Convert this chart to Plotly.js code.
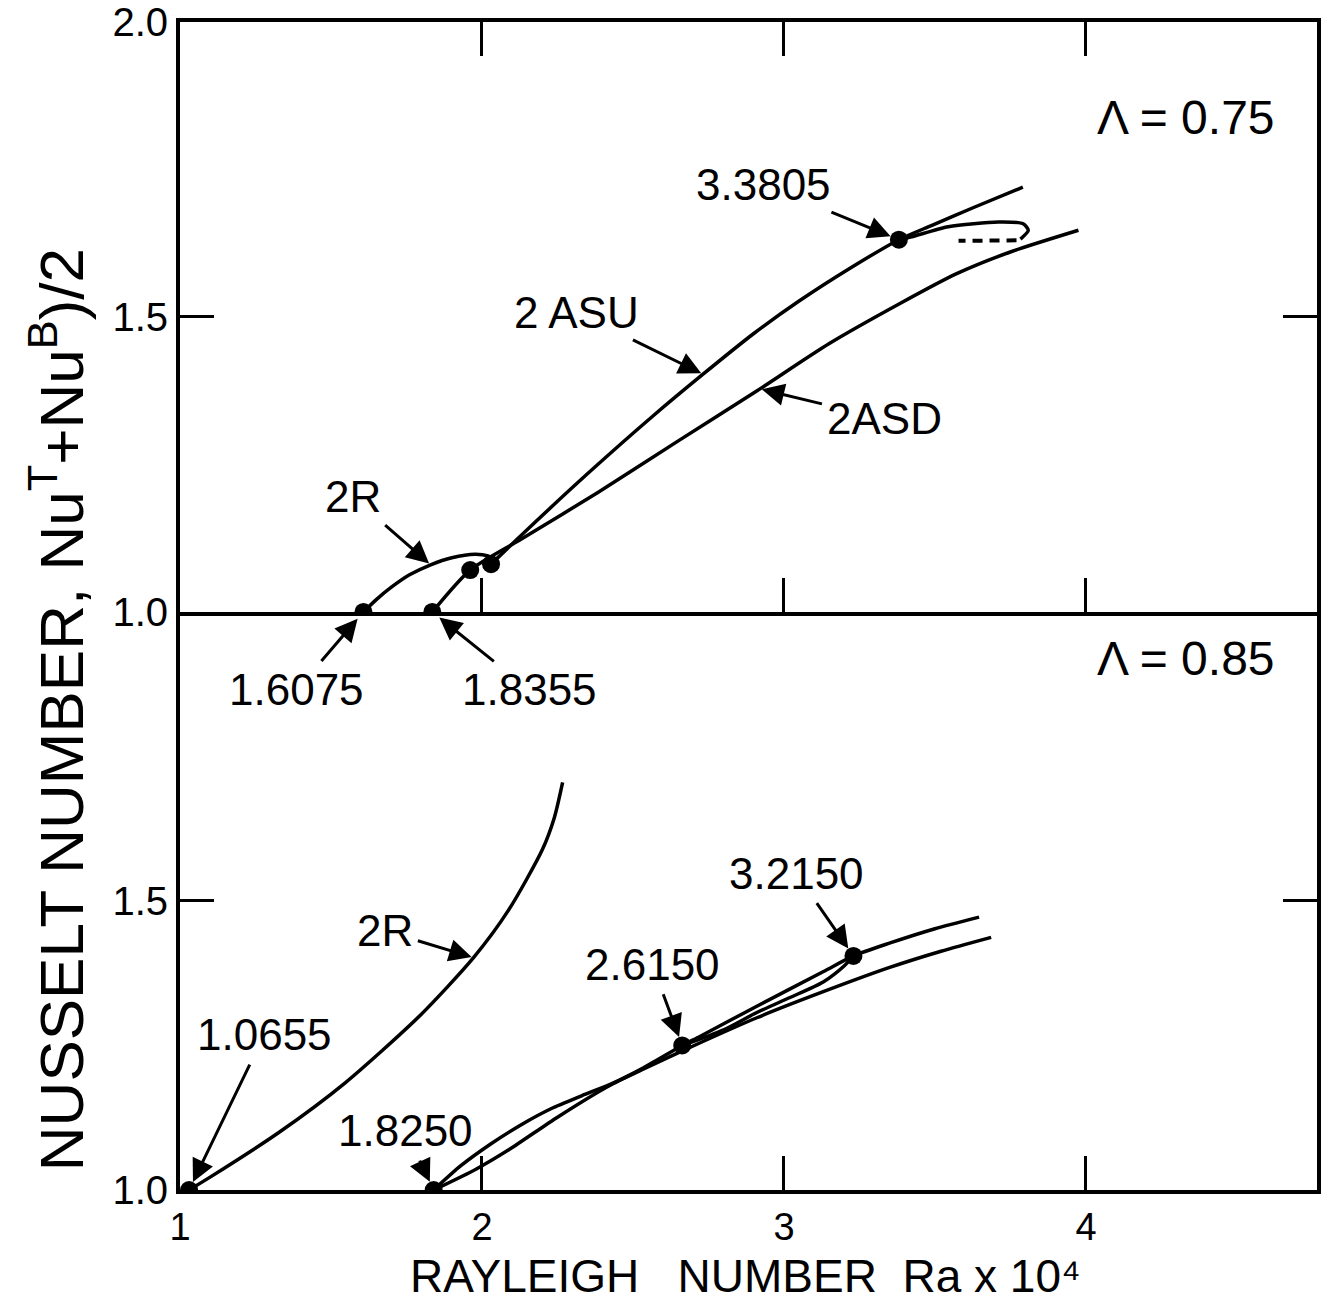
<!DOCTYPE html>
<html>
<head>
<meta charset="utf-8">
<script src="https://cdn.plot.ly/plotly-3.0.1.min.js"></script>
<style>html,body{margin:0;padding:0;background:#fff;}</style>
</head>
<body>
<div id="chart" style="width:1329px;height:1306px;"></div>
<script>
// ---------- DATA (Ra x 10^-4, Nusselt number) ----------
// Upper panel, Lambda = 0.75
const up2R_x   = [1.6075, 1.650, 1.700, 1.760, 1.830, 1.900, 1.977, 2.020, 2.045];
const up2R_y   = [1.000, 1.021, 1.042, 1.063, 1.080, 1.092, 1.098, 1.095, 1.087];
const upASU_x  = [2.030, 2.132, 2.351, 2.568, 2.732, 2.900, 3.050, 3.220, 3.3805, 3.488, 3.630, 3.791];
const upASU_y  = [1.081, 1.131, 1.235, 1.333, 1.403, 1.472, 1.527, 1.583, 1.631, 1.655, 1.686, 1.720];
const upASD_x  = [1.8355, 1.961, 2.132, 2.385, 2.650, 2.911, 3.150, 3.381, 3.570, 3.754, 3.975];
const upASD_y  = [1.000, 1.071, 1.124, 1.203, 1.290, 1.375, 1.455, 1.522, 1.573, 1.611, 1.647];
const upLoop_x = [3.3805, 3.423, 3.544, 3.710, 3.792, 3.809, 3.783];
const upLoop_y = [1.631, 1.636, 1.653, 1.661, 1.658, 1.647, 1.632];
const upDash_x = [3.770, 3.578];
const upDash_y = [1.630, 1.629];
const upDots_x = [1.6075, 1.8355, 1.961, 2.030, 3.3805];
const upDots_y = [1.000, 1.000, 1.071, 1.081, 1.631];

// Lower panel, Lambda = 0.85
const lo2R_x   = [1.030, 1.105, 1.326, 1.546, 1.795, 1.972, 2.089, 2.200, 2.240, 2.267];
const lo2R_y   = [1.000, 1.024, 1.099, 1.185, 1.302, 1.402, 1.485, 1.589, 1.645, 1.705];
const loA_x    = [1.840, 1.930, 2.030, 2.130, 2.230, 2.330, 2.430, 2.530, 2.663, 2.723, 2.910, 3.131, 3.230, 3.349, 3.500, 3.646];
const loA_y    = [1.000, 1.042, 1.080, 1.113, 1.141, 1.163, 1.184, 1.210, 1.250, 1.266, 1.318, 1.378, 1.405, 1.427, 1.452, 1.472];
const loB_x    = [1.840, 1.980, 2.090, 2.250, 2.420, 2.530, 2.690, 2.910, 3.130, 3.350, 3.520, 3.686];
const loB_y    = [1.000, 1.036, 1.070, 1.126, 1.180, 1.208, 1.247, 1.298, 1.343, 1.385, 1.413, 1.437];
const loLoop_x = [2.663, 2.800, 2.910, 3.020, 3.130, 3.200, 3.230];
const loLoop_y = [1.250, 1.277, 1.307, 1.333, 1.360, 1.388, 1.405];
const loDots_x = [1.030, 1.840, 2.663, 3.230];
const loDots_y = [1.000, 1.000, 1.250, 1.405];

// Tick labels
const xTicks = [1, 2, 3, 4];
const xTickText = ['1', '2', '3', '4'];
const yTicksUp = [1, 1.5, 2];
const yTickTextUp = ['1.0', '1.5', '2.0'];
const yTicksLo = [1, 1.5];
const yTickTextLo = ['1.0', '1.5'];

// ---------- STYLE ----------
const LW = 3.5;
function curve(x, y, xa, ya, dash) {
  return {x: x, y: y, xaxis: xa, yaxis: ya, mode: 'lines', hoverinfo: 'skip',
          line: {color: '#000', width: dash ? 4 : LW, shape: dash ? 'linear' : 'spline', smoothing: 0.7, dash: dash || 'solid'}};
}
function dots(x, y, xa, ya) {
  return {x: x, y: y, xaxis: xa, yaxis: ya, mode: 'markers', hoverinfo: 'skip',
          marker: {color: '#000', size: 18}};
}

const traces = [
  curve(up2R_x, up2R_y, 'x2', 'y2'),
  curve(upASU_x, upASU_y, 'x2', 'y2'),
  curve(upASD_x, upASD_y, 'x2', 'y2'),
  curve(upLoop_x, upLoop_y, 'x2', 'y2'),
  curve(upDash_x, upDash_y, 'x2', 'y2', '10px,7px'),
  dots(upDots_x, upDots_y, 'x2', 'y2'),
  curve(lo2R_x, lo2R_y, 'x', 'y'),
  curve(loA_x, loA_y, 'x', 'y'),
  curve(loB_x, loB_y, 'x', 'y'),
  curve(loLoop_x, loLoop_y, 'x', 'y'),
  dots(loDots_x, loDots_y, 'x', 'y')
];

const FONT = 'Liberation Sans, Arial, sans-serif';
const AF = {family: FONT, size: 44, color: '#000'};
function arrowAnn(text, x, y, xref, yref, ax, ay, standoff) {
  return {text: text, x: x, y: y, xref: xref, yref: yref, ax: ax, ay: ay,
          showarrow: true, arrowhead: 2, arrowsize: 1.5, arrowwidth: 3, arrowcolor: '#000',
          standoff: standoff, startstandoff: 4, font: AF};
}

const annotations = [
  // upper panel
  {text: 'Λ = 0.75', x: 0.885, y: 0.918, xref: 'paper', yref: 'paper', showarrow: false,
   font: {family: FONT, size: 48, color: '#000'}, xanchor: 'center', yanchor: 'middle'},
  arrowAnn('3.3805', 3.3805, 1.631, 'x2', 'y2', -135, -55, 9),
  arrowAnn('2 ASU', 2.732, 1.403, 'x2', 'y2', -127, -62, 2),
  arrowAnn('2ASD', 2.92, 1.378, 'x2', 'y2', 125, 30, 2),
  arrowAnn('2R', 1.83, 1.080, 'x2', 'y2', -78, -68, 2),
  arrowAnn('1.6075', 1.6075, 1.0, 'x2', 'y2', -67, 78, 9),
  arrowAnn('1.8355', 1.8355, 1.0, 'x2', 'y2', 97, 78, 9),
  // lower panel
  {text: 'Λ = 0.85', x: 0.885, y: 0.455, xref: 'paper', yref: 'paper', showarrow: false,
   font: {family: FONT, size: 48, color: '#000'}, xanchor: 'center', yanchor: 'middle'},
  arrowAnn('2R', 1.972, 1.402, 'x', 'y', -89, -27, 2),
  arrowAnn('1.0655', 1.030, 1.0, 'x', 'y', 75, -155, 9),
  arrowAnn('1.8250', 1.840, 1.0, 'x', 'y', -28, -59, 9),
  arrowAnn('2.6150', 2.663, 1.250, 'x', 'y', -30, -81, 9),
  arrowAnn('3.2150', 3.230, 1.405, 'x', 'y', -57, -82, 9),
  // axis titles
  {text: 'RAYLEIGH   NUMBER  Ra x 10⁴', x: 0.497, y: -0.0975, xref: 'paper', yref: 'paper',
   showarrow: false, xanchor: 'center', yanchor: 'bottom', font: {family: FONT, size: 46, color: '#000'}},
  {text: 'NUSSELT NUMBER, Nu<sup>T</sup>+Nu<sup>B</sup>)/2', x: -0.108, y: 0.411, xref: 'paper', yref: 'paper',
   showarrow: false, textangle: -90, xanchor: 'center', yanchor: 'middle', font: {family: FONT, size: 62, color: '#000'}}
];

const axCommon = {showline: true, linewidth: 4, linecolor: '#000', showgrid: false, zeroline: false,
                  ticks: 'inside', ticklen: 34, tickwidth: 3, tickcolor: '#000',
                  ticklabeloverflow: 'allow',
                  tickfont: {family: FONT, size: 40, color: '#000'}, fixedrange: true};

const layout = {
  width: 1329, height: 1306,
  margin: {l: 180, r: 12, t: 22, b: 116},
  paper_bgcolor: '#fff', plot_bgcolor: '#fff',
  showlegend: false,
  font: {family: FONT, color: '#000'},
  xaxis: Object.assign({}, axCommon, {domain: [0, 1], range: [1, 4.765], anchor: 'y',
          tickvals: xTicks, ticktext: xTickText, mirror: false,
          tickfont: {family: FONT, size: 38, color: '#000'}}),
  yaxis: Object.assign({}, axCommon, {domain: [0, 0.4949], range: [1, 2], anchor: 'x',
          tickvals: yTicksLo, ticktext: yTickTextLo, mirror: 'ticks'}),
  xaxis2: Object.assign({}, axCommon, {domain: [0, 1], range: [1, 4.765], anchor: 'y2',
          tickvals: [2, 3, 4], showticklabels: false, mirror: 'ticks'}),
  yaxis2: Object.assign({}, axCommon, {domain: [0.4949, 1], range: [1, 2], anchor: 'x2',
          tickvals: yTicksUp, ticktext: yTickTextUp, mirror: 'ticks'}),
  annotations: annotations
};

Plotly.newPlot('chart', traces, layout, {staticPlot: true, displayModeBar: false});
</script>
</body>
</html>
